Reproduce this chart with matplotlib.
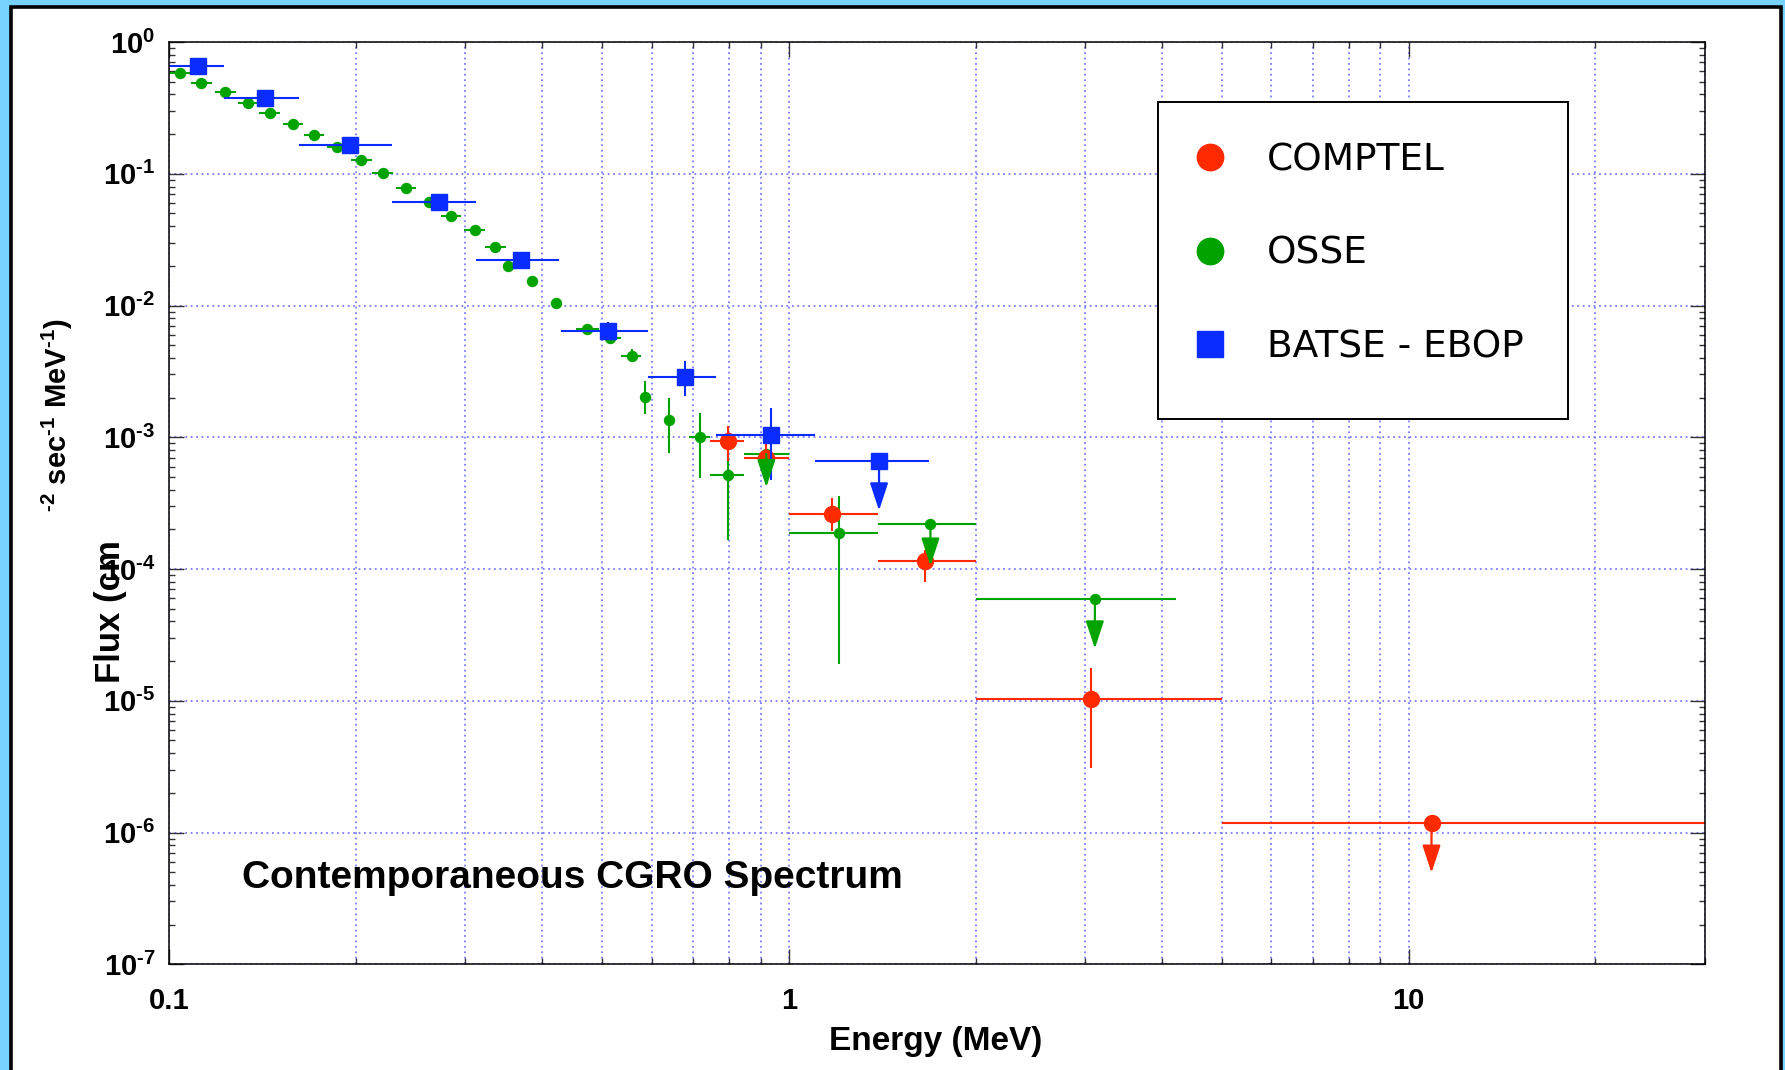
import numpy as np
import matplotlib
matplotlib.use('Agg')
import matplotlib.pyplot as plt
from matplotlib.lines import Line2D
from matplotlib.patches import Rectangle
from matplotlib.ticker import LogLocator, NullFormatter

plt.rcParams['font.family'] = ['Liberation Sans', 'DejaVu Sans']
plt.rcParams['mathtext.fontset'] = 'custom'
plt.rcParams['mathtext.rm'] = 'Liberation Sans:bold'
plt.rcParams['mathtext.it'] = 'Liberation Sans:bold'
plt.rcParams['mathtext.bf'] = 'Liberation Sans:bold'

nan = np.nan

# -------------------------------------------------------------------
# data (energy in MeV, flux in cm^-2 s^-1 MeV^-1)
# -------------------------------------------------------------------
# COMPTEL
comptel_e = [0.797, 0.919, 1.175, 1.66, 3.066, 10.88]
comptel_f = [9.33e-4, 6.93e-4, 2.62e-4, 1.16e-4, 1.04e-5, 1.19e-6]
comptel_e_lo = [0.746, 0.846, 1.0, 1.39, 2.0, 5.0]
comptel_e_hi = [0.846, 1.0, 1.39, 2.0, 5.0, 30.0]
comptel_f_lo = [6.66e-4, 5.5e-4, 1.94e-4, 7.96e-5, 3.09e-6, 1.19e-6]
comptel_f_hi = [1.227e-3, 9.2e-4, 3.47e-4, 1.4e-4, 1.77e-5, 1.19e-6]
comptel_ul = [nan, nan, nan, nan, nan, 4.95e-7]   # upper limit arrow tips

# OSSE
osse_e = [0.104, 0.1126, 0.1231, 0.1341, 0.1452, 0.1583, 0.1713, 0.1867, 0.204, 0.2209,
          0.2409, 0.2627, 0.2849, 0.3108, 0.336, 0.3526, 0.3846, 0.42, 0.4725, 0.515,
          0.5575, 0.5858, 0.639, 0.7196, 0.797, 0.919, 1.204, 1.691, 3.115]
osse_f = [0.582, 0.486, 0.420, 0.3466, 0.288, 0.2389, 0.1983, 0.160, 0.1268, 0.101,
          0.0782, 0.0609, 0.0482, 0.0374, 0.0276, 0.0198, 0.01533, 0.0105, 0.00664, 0.00567,
          0.00414, 0.00203, 0.001355, 0.00101, 0.000515, 0.000748, 0.000188, 0.000219, 5.95e-5]
osse_e_lo = [0.100, 0.1084, 0.1185, 0.1291, 0.1398, 0.1524, 0.1649, 0.1797, 0.1964, 0.2127,
             0.2319, 0.2529, 0.2743, 0.2992, 0.3235, 0.3526, 0.3846, 0.42, 0.4529, 0.496,
             0.5353, 0.5858, 0.639, 0.6897, 0.7464, 0.8457, 1.0, 1.39, 2.0]
osse_e_hi = [0.108, 0.1170, 0.1279, 0.1393, 0.1509, 0.1645, 0.1780, 0.1940, 0.2120, 0.2295,
             0.2503, 0.2730, 0.2960, 0.3230, 0.3491, 0.3526, 0.3846, 0.42, 0.4939, 0.535,
             0.5778, 0.5858, 0.639, 0.7451, 0.8453, 1.0, 1.39, 2.0, 4.216]
osse_f_lo = [0.582, 0.486, 0.420, 0.3466, 0.288, 0.2389, 0.1983, 0.160, 0.1268, 0.101,
             0.0782, 0.0609, 0.0482, 0.0374, 0.0276, 0.0198, 0.01533, 0.0105, 0.00664, 0.00567,
             0.00376, 0.00150, 0.000762, 0.000489, 0.000165, 0.000748, 1.91e-5, 0.000219, 5.95e-5]
osse_f_hi = [0.582, 0.486, 0.420, 0.3466, 0.288, 0.2389, 0.1983, 0.160, 0.1268, 0.101,
             0.0782, 0.0609, 0.0482, 0.0374, 0.0276, 0.0198, 0.01533, 0.0105, 0.00664, 0.00567,
             0.00465, 0.00269, 0.00199, 0.00153, 0.00080, 0.000748, 3.61e-4, 0.000219, 5.95e-5]
osse_ul = [nan] * 25 + [4.18e-4, nan, 1.06e-4, 2.49e-5]

# BATSE - EBOP
batse_e = [0.1112, 0.1428, 0.196, 0.2719, 0.3694, 0.5104, 0.6796, 0.935, 1.397]
batse_f = [0.658, 0.3743, 0.1656, 0.0609, 0.02213, 0.00644, 0.00285, 0.001043, 0.000666]
batse_e_lo = [0.0983, 0.1225, 0.1617, 0.2288, 0.3121, 0.4283, 0.5925, 0.7626, 1.1]
batse_e_hi = [0.1225, 0.1617, 0.2288, 0.3121, 0.4249, 0.5925, 0.7626, 1.1, 1.683]
batse_f_lo = [0.658, 0.3743, 0.1656, 0.0609, 0.02213, 0.0058, 0.00207, 0.00047, 0.000666]
batse_f_hi = [0.658, 0.3743, 0.1656, 0.0609, 0.02213, 0.0075, 0.00377, 0.00166, 0.000666]
batse_ul = [nan] * 8 + [2.78e-4]

ytick_vals = [1e-7, 1e-6, 1e-5, 1e-4, 1e-3, 1e-2, 1e-1, 1e0]
ytick_labels = [r'$10^{\text{-7}}$', r'$10^{\text{-6}}$', r'$10^{\text{-5}}$',
                r'$10^{\text{-4}}$', r'$10^{\text{-3}}$', r'$10^{\text{-2}}$',
                r'$10^{\text{-1}}$', r'$10^{0}$']
xtick_vals = [0.1, 1, 10]
xtick_labels = ['0.1', '1', '10']

red = '#ff2a00'
green = '#00a300'
blue = '#0a2cff'
gridc = '#7b7bff'

# -------------------------------------------------------------------
# figure
# -------------------------------------------------------------------
fig = plt.figure(figsize=(17.85, 10.70), dpi=100, facecolor='#76d3ff')
fig.add_artist(Rectangle((11 / 1785, -0.02), 1770 / 1785, 1 - 6.5 / 1070 + 0.02,
                         transform=fig.transFigure, facecolor='white',
                         edgecolor='black', lw=2.6, zorder=-10))

ax = fig.add_axes([169.3 / 1785, 1 - 964.3 / 1070, 1535.2 / 1785, 922.3 / 1070])
ax.set_xscale('log')
ax.set_yscale('log')
ax.set_xlim(0.1, 30)
ax.set_ylim(1e-7, 1)


def draw_set(e, f, elo, ehi, flo, fhi, ul, color, marker, ms, z):
    e = np.array(e)
    f = np.array(f)
    xerr = [e - np.array(elo), np.array(ehi) - e]
    yerr = [f - np.array(flo), np.array(fhi) - f]
    ax.errorbar(e, f, xerr=xerr, yerr=yerr, fmt=marker, color=color, mec=color,
                ms=ms, elinewidth=1.5, capsize=0, zorder=z)
    for i in range(len(e)):
        if not np.isnan(ul[i]):
            ax.annotate('', xy=(e[i], ul[i]), xytext=(e[i], f[i]),
                        arrowprops=dict(arrowstyle='-|>,head_length=0.85,head_width=0.28',
                                        mutation_scale=20, color=color, lw=1.6,
                                        shrinkA=0, shrinkB=0),
                        zorder=z + 3)


draw_set(osse_e, osse_f, osse_e_lo, osse_e_hi, osse_f_lo, osse_f_hi, osse_ul, green, 'o', 7.2, 2.0)
draw_set(comptel_e, comptel_f, comptel_e_lo, comptel_e_hi, comptel_f_lo, comptel_f_hi, comptel_ul, red, 'o', 11.5, 2.1)
draw_set(batse_e, batse_f, batse_e_lo, batse_e_hi, batse_f_lo, batse_f_hi, batse_ul, blue, 's', 11.5, 2.2)

# axes / ticks
ax.set_yticks(ytick_vals, labels=ytick_labels)
ax.set_xticks(xtick_vals, labels=xtick_labels, fontweight='bold')
ax.xaxis.set_minor_locator(LogLocator(base=10, subs=np.arange(2, 10), numticks=50))
ax.yaxis.set_minor_locator(LogLocator(base=10, subs=np.arange(2, 10), numticks=50))
ax.xaxis.set_minor_formatter(NullFormatter())
ax.yaxis.set_minor_formatter(NullFormatter())
ax.tick_params(which='both', direction='in', top=True, right=True, labelsize=21)
ax.tick_params(which='major', length=10.5, width=1.0, color='#333333')
ax.tick_params(which='minor', length=4.3, width=1.0, color='#333333')
ax.tick_params(axis='y', which='major', pad=10)
ax.tick_params(axis='x', which='major', pad=16)
for s in ax.spines.values():
    s.set_linewidth(1.1)

ax.grid(which='major', axis='both', color=gridc, ls=(0, (1, 2)), lw=1.3)
ax.grid(which='minor', axis='x', color=gridc, ls=(0, (1, 2)), lw=1.3)
ax.set_axisbelow(True)

# legend: white box drawn separately so it can be sized like the original
ax.add_patch(Rectangle((1158.3 / 1785, 1 - 419.3 / 1070), 410 / 1785, 317.6 / 1070,
                       transform=fig.transFigure, facecolor='white', edgecolor='black',
                       lw=1.4, zorder=4.9))
handles = [Line2D([], [], ls='none', marker='o', ms=19, color=red),
           Line2D([], [], ls='none', marker='o', ms=19, color=green),
           Line2D([], [], ls='none', marker='s', ms=19, color=blue)]
leg = ax.legend(handles, ['COMPTEL', 'OSSE', 'BATSE - EBOP'], loc='upper left',
                bbox_to_anchor=(1158.3 / 1785, 1 - 105.1 / 1070), bbox_transform=fig.transFigure,
                prop={'family': 'DejaVu Sans', 'size': 27}, frameon=False,
                borderpad=1.0, labelspacing=1.53, handlelength=0.77,
                handletextpad=1.13, borderaxespad=0)
leg.set_zorder(5)

# texts
fig.text(242.5 / 1785, 1 - 888 / 1070, 'Contemporaneous CGRO Spectrum',
         fontsize=28, fontweight='bold', ha='left', va='baseline')
fig.text(936 / 1785, 1 - 1041.7 / 1070, 'Energy (MeV)', fontsize=24, fontweight='bold',
         ha='center', va='center')
fig.text(110 / 1785, 1 - 612 / 1070, 'Flux (cm', fontsize=25, fontweight='bold',
         rotation=90, ha='center', va='center')
fig.text(57 / 1785, 1 - 415 / 1070,
         r'${}^{\text{-2}}\ \mathrm{sec}^{\text{-1}}\ \mathrm{MeV}^{\text{-1}}\mathrm{)}$',
         fontsize=21, rotation=90, ha='center', va='center')

plt.savefig('out.png', dpi=100, facecolor=fig.get_facecolor())
